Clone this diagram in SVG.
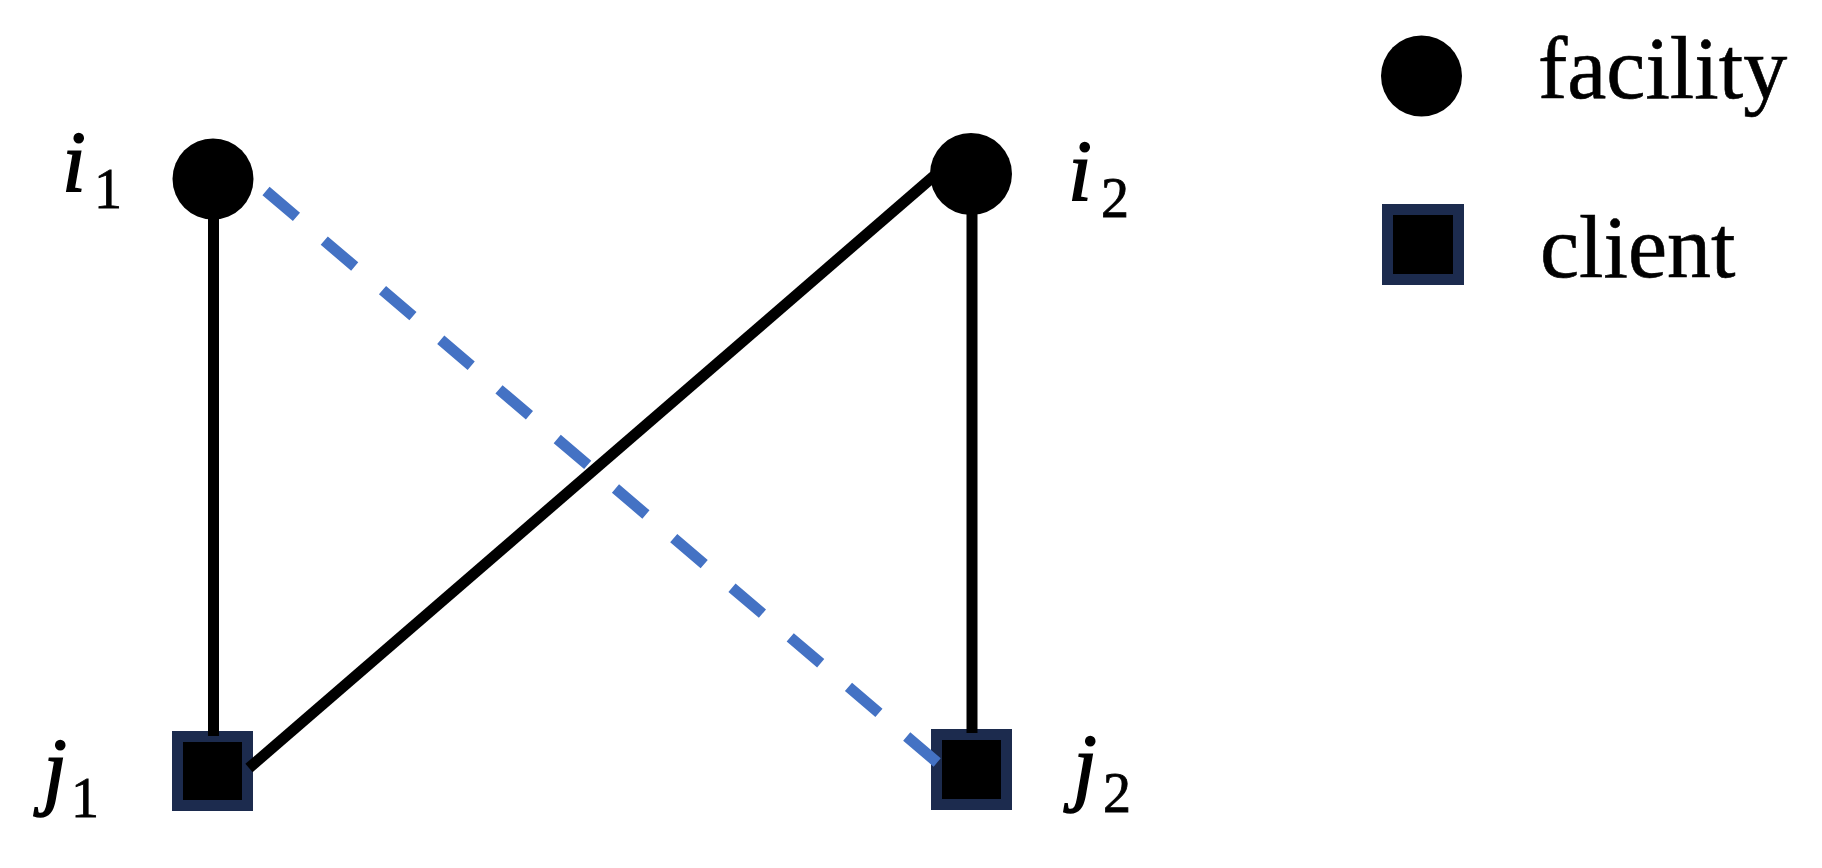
<svg xmlns="http://www.w3.org/2000/svg" width="1822" height="868" viewBox="0 0 1822 868">
<style>
.fac{fill:#000}
.cli{fill:#000;stroke:#1c2b4e;stroke-width:11}
.lbl{font-family:"Liberation Serif","Times New Roman",serif;fill:#000}
.var{font-style:italic;font-size:86px;stroke:#000;stroke-width:1.5}
.sub{font-size:56px;stroke:#000;stroke-width:0.8}
.leg{font-size:88px;stroke:#000;stroke-width:0.6}
.edge{stroke:#000;stroke-width:11;fill:none}
.dash{stroke:#4472c4;stroke-width:11;fill:none;stroke-dasharray:40 36.5}
</style>
<rect width="1822" height="868" fill="#fff"/>
<g id="node-i1">
<circle class="fac" cx="213" cy="179" r="40.5"/>
<text class="lbl var" x="62" y="191">i</text><text class="lbl sub" x="94" y="208">1</text>
</g>
<g id="node-i2">
<circle class="fac" cx="971" cy="174" r="41"/>
<text class="lbl var" x="1068" y="200">i</text><text class="lbl sub" x="1101" y="217">2</text>
</g>
<g id="node-j1">
<rect class="cli" x="177.5" y="736.5" width="70" height="69"/>
<text class="lbl var" x="43" y="798">j</text><text class="lbl sub" x="71" y="817">1</text>
</g>
<g id="node-j2">
<rect class="cli" x="936.5" y="734.5" width="70" height="70"/>
<text class="lbl var" x="1073" y="794">j</text><text class="lbl sub" x="1103" y="812">2</text>
</g>
<g id="connectors">
<line class="edge" x1="213.5" y1="215" x2="213.5" y2="736"/>
<line class="edge" x1="972" y1="210" x2="972" y2="733"/>
<line class="edge" x1="249" y1="768" x2="934" y2="176"/>
<line class="dash" x1="266" y1="191" x2="939" y2="764"/>
</g>
<g id="legend">
<circle class="fac" cx="1421.5" cy="76" r="40.5"/>
<text class="lbl leg" x="1538" y="98">facility</text>
<rect class="cli" x="1387.5" y="209.5" width="71" height="70"/>
<text class="lbl leg" x="1540" y="277">client</text>
</g>
</svg>
